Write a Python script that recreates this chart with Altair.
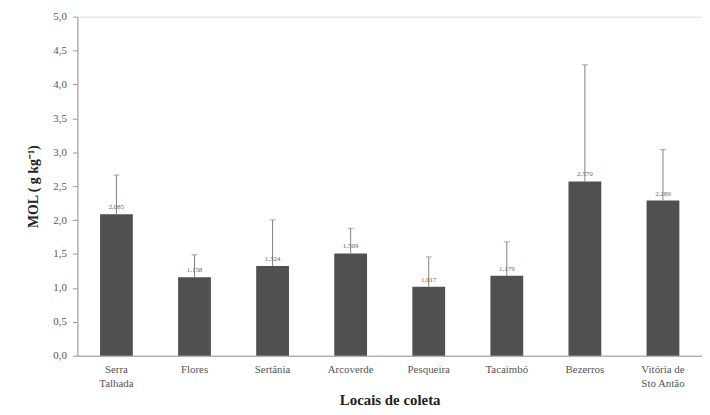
import altair as alt
import pandas as pd

sites = ["Serra|Talhada", "Flores", "Sertânia", "Arcoverde", "Pesqueira",
         "Tacaimbó", "Bezerros", "Vitória de|Sto Antão"]
means = [2.085, 1.158, 1.324, 1.509, 1.017, 1.179, 2.570, 2.289]
errors = [0.58, 0.33, 0.68, 0.37, 0.44, 0.50, 1.72, 0.75]
yticks = [0, 0.5, 1, 1.5, 2, 2.5, 3, 3.5, 4, 4.5, 5]

df = pd.DataFrame({"site": sites, "mean": means, "err": errors})
df["upper"] = df["mean"] + df["err"]
df["label"] = [f"{v:.3f}".replace(".", ",") for v in means]

FONT = "Times New Roman, Liberation Serif, serif"

x = alt.X("site:N", sort=sites, title="Locais de coleta",
          scale=alt.Scale(paddingInner=0.58, paddingOuter=0.29),
          axis=alt.Axis(labelAngle=0, labelExpr="split(datum.label, '|')",
                        ticks=False, labelPadding=8, labelFontSize=11,
                        labelColor="#555", labelFont=FONT, labelLineHeight=14,
                        titleFont=FONT, titleFontSize=15, titleFontWeight="bold",
                        titleColor="#222", titlePadding=4,
                        domainColor="#999"))


def Y(field):
    return alt.Y(field, title="MOL ( g kg⁻¹)",
                 scale=alt.Scale(domain=[0, 5], nice=False),
                 axis=alt.Axis(values=yticks,
                               labelExpr="replace(format(datum.value, '.1f'), '.', ',')",
                               labelOverlap=False,
                               grid=False, tickSize=5, tickColor="#999", domainColor="#999",
                               labelFont=FONT, labelFontSize=11, labelColor="#555",
                               labelPadding=6,
                               titleFont=FONT, titleFontSize=14, titleFontWeight="bold",
                               titleColor="#222", titlePadding=12))


bars = alt.Chart(df).mark_bar(color="#505050").encode(x=x, y=Y("mean:Q"))

rule = alt.Chart(df).mark_rule(color="#808080", strokeWidth=1).encode(
    x=x, y=Y("mean:Q"), y2="upper:Q")

cap = alt.Chart(df).mark_tick(color="#808080", thickness=1, size=6, orient="horizontal").encode(
    x=x, y=Y("upper:Q"))

text = alt.Chart(df).mark_text(font=FONT, fontSize=7, color="#666", dy=-7).encode(
    x=x, y=Y("mean:Q"), text="label:N")

chart = alt.layer(bars, rule, cap, text).properties(
    width=630, height=342,
    autosize=alt.AutoSizeParams(type="none"),
    padding={"left": 70, "top": 7, "right": 0, "bottom": 50},
).configure_view(stroke=None).configure(font=FONT)

chart.save("out.html", embed_options={"renderer": "svg", "actions": False})
